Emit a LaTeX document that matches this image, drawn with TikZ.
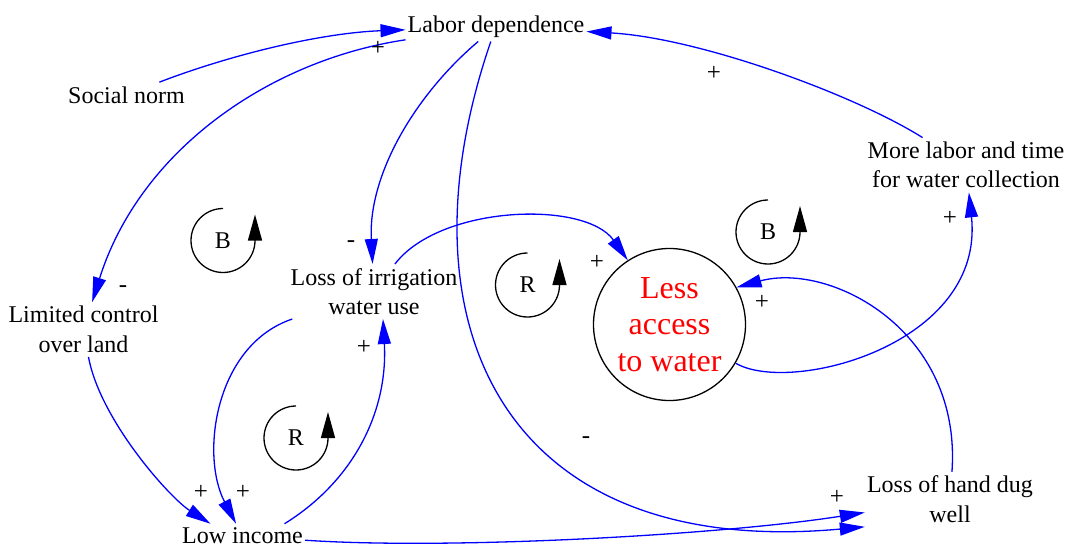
\documentclass[tikz,border=0pt]{standalone}
\usepackage{fontspec}
\setmainfont{Liberation Serif}
\usetikzlibrary{arrows.meta}
\begin{document}
\begin{tikzpicture}[x=1pt,y=-1pt,
  var/.style={font=\fontsize{24}{29.5}\selectfont, align=center, inner xsep=2pt, inner ysep=4pt},
  pol/.style={font=\fontsize{25}{25}\selectfont, inner sep=0pt},
  link/.style={draw=blue, line width=1.3pt, -{Triangle[length=25pt,width=13pt]}},
  loopl/.style={font=\fontsize{24}{24}\selectfont, inner sep=0pt},
  looparc/.style={draw=black, line width=1.3pt, -{Triangle[length=26pt,width=14pt]}}]
\useasboundingbox (0,0) rectangle (1069,551);
% variables
\node[var] (LD) at (496,26.4) {Labor dependence};
\node[var] (SN) at (126.5,94.8) {Social norm};
\node[var] (LC) at (83.5,329.5) {Limited control\\over land};
\node[var] (LI) at (374,291.5) {Loss of irrigation\\water use};
\node[var] (LowI) at (242.5,536) {Low income};
\node[var] (ML) at (966,165) {More labor and time\\for water collection};
\node[var] (LHDW) at (950,499.3) {Loss of hand dug\\well};
\node[circle, draw, line width=1.3pt, minimum size=152pt, inner sep=0pt, text=red,
      font=\fontsize{32}{36.5}\selectfont, align=center] (LAW) at (669.5,324.5) {Less\\access\\to water};
% links
\draw[link] (SN) .. controls (230,55) and (320,33) .. (LD);
\draw[link] (LD) .. controls (270,60) and (140,150) .. (LC);
\draw[link] (LD) .. controls (415,95) and (368,175) .. (LI);
\draw[link] (LD) .. controls (395,320) and (500,560) .. (LHDW.south west);
\draw[link] (ML) .. controls (855,95) and (700,38) .. (LD);
\draw[link] (LAW) .. controls (790,395) and (985,345) .. (ML);
\draw[link] (LHDW) .. controls (962,330) and (830,262) .. (LAW.29);
\draw[link] (LI) .. controls (440,205) and (585,200) .. (LAW.123);
\draw[link] (LI) .. controls (215,345) and (200,455) .. (LowI);
\draw[link] (LC) .. controls (100,420) and (170,498) .. ([xshift=-32pt]LowI.north);
\draw[link] ([xshift=42pt]LowI.north) .. controls (355,480) and (388,410) .. ([xshift=9pt]LI.south);
\draw[link] (LowI) .. controls (450,550) and (720,535) .. (LHDW);
% polarities
\node[pol] (p1) at (378,48) {+};
\node[pol] (p2) at (123,289) {-};
\node[pol] (p3) at (351,244) {-};
\node[pol] (p4) at (586,440) {-};
\node[pol] (p5) at (714,73) {+};
\node[pol] (p6) at (950,218) {+};
\node[pol] (p7) at (762,302) {+};
\node[pol] (p8) at (597,262) {+};
\node[pol] (p9) at (243,492) {+};
\node[pol] (p10) at (201,492) {+};
\node[pol] (p11) at (364,347) {+};
\node[pol] (p12) at (837,497) {+};
% loop markers
\node[loopl] (B1) at (223,240.5) {B};
\draw[looparc] (223,208.5) arc[start angle=-90, end angle=-360, radius=32] -- ++(0,-26);
\node[loopl] (B2) at (768,232) {B};
\draw[looparc] (768,200) arc[start angle=-90, end angle=-360, radius=32] -- ++(0,-26);
\node[loopl] (R1) at (527.5,285) {R};
\draw[looparc] (527.5,253) arc[start angle=-90, end angle=-360, radius=32] -- ++(0,-26);
\node[loopl] (R2) at (296,438) {R};
\draw[looparc] (296,406) arc[start angle=-90, end angle=-360, radius=32] -- ++(0,-26);
\end{tikzpicture}
\end{document}
